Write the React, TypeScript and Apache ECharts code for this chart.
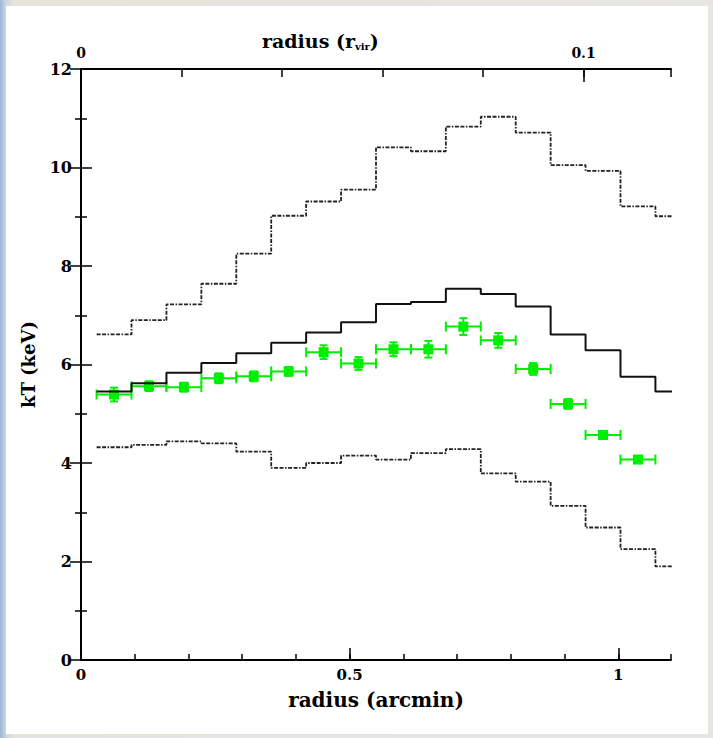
import React, { useEffect, useRef } from "react";
import * as echarts from "echarts";

// ---- data ----
// bin edges of the radial profile, arcmin
const binEdges = [0.029, 0.094, 0.159, 0.224, 0.289, 0.354, 0.419, 0.484, 0.549, 0.614, 0.679, 0.744, 0.809, 0.874, 0.939, 1.004, 1.069, 1.134];
// model profiles (one value per bin), keV
const medianKT = [5.45, 5.62, 5.83, 6.03, 6.23, 6.44, 6.65, 6.86, 7.23, 7.27, 7.54, 7.43, 7.18, 6.61, 6.29, 5.75, 5.45];
const upperKT = [6.61, 6.9, 7.22, 7.64, 8.25, 9.02, 9.31, 9.55, 10.41, 10.33, 10.83, 11.03, 10.71, 10.05, 9.93, 9.21, 9.01];
const lowerKT = [4.32, 4.37, 4.44, 4.4, 4.23, 3.9, 4.0, 4.15, 4.07, 4.2, 4.28, 3.79, 3.62, 3.13, 2.69, 2.25, 1.9];
// observed temperatures (first 16 bins) and their 1-sigma errors, keV
const obsKT = [5.39, 5.56, 5.54, 5.72, 5.76, 5.86, 6.25, 6.02, 6.31, 6.31, 6.77, 6.49, 5.91, 5.2, 4.57, 4.07];
const obsErr = [0.14, 0.1, 0.09, 0.1, 0.1, 0.09, 0.14, 0.13, 0.14, 0.17, 0.17, 0.15, 0.12, 0.1, 0.08, 0.07];
// axes
const xMaxArcmin = 1.098;
const xMaxRvir = 0.1174;
const yMax = 12;

const FONT = '"DejaVu Serif", "Liberation Serif", serif';
const GREEN = "#00ee00";
const DASH = [4, 1.5, 4, 1.5, 1.5, 1.5];

function stepData(vals: number[]) {
  return binEdges.map((e, i) => [e, vals[Math.min(i, vals.length - 1)]]);
}

export default function App() {
  const ref = useRef<HTMLDivElement>(null);
  useEffect(() => {
    const chart = echarts.init(ref.current!, null, { renderer: "svg" });
    const obsData = obsKT.map((v, i) => [
      (binEdges[i] + binEdges[i + 1]) / 2,
      v,
      binEdges[i],
      binEdges[i + 1],
      v - obsErr[i],
      v + obsErr[i],
    ]);
    const axisLine = { show: true, lineStyle: { color: "#000", width: 2 } };
    const tickLine = { color: "#000", width: 1.5 };
    const labelStyle = { fontFamily: FONT, fontWeight: "bold" as const, color: "#000" };
    const option: any = {
      animation: false,
      title: {
        text: "radius (r{sub|vir})",
        left: 262,
        top: 31,
        padding: 0,
        textStyle: {
          ...labelStyle,
          fontSize: 19,
          lineHeight: 20,
          rich: {
            sub: { ...labelStyle, fontSize: 10, lineHeight: 20, verticalAlign: "bottom" },
          },
        },
      },
      grid: { left: 81, right: 42, top: 69, bottom: 78, containLabel: false },
      xAxis: [
        {
          type: "value",
          position: "bottom",
          min: 0,
          max: xMaxArcmin,
          interval: 0.5,
          axisLine,
          axisTick: { show: true, inside: true, length: 12, lineStyle: tickLine },
          splitLine: { show: false },
          axisLabel: {
            ...labelStyle,
            fontSize: 15,
            margin: 7,
            showMaxLabel: false,
            formatter: (v: number) => (Math.abs(v * 2 - Math.round(v * 2)) < 1e-6 ? String(v) : ""),
          },
          name: "radius (arcmin)",
          nameLocation: "middle",
          nameGap: 30,
          nameTextStyle: { ...labelStyle, fontSize: 20 },
        },
        {
          type: "value",
          position: "bottom",
          min: 0,
          max: xMaxArcmin,
          interval: 0.1,
          axisLine: { show: false },
          axisTick: { show: true, inside: true, length: 6, lineStyle: tickLine },
          splitLine: { show: false },
          axisLabel: { show: false },
        },
        {
          type: "value",
          position: "top",
          min: 0,
          max: xMaxRvir,
          interval: 0.1,
          axisLine,
          axisTick: { show: true, inside: true, length: 13, lineStyle: tickLine },
          splitLine: { show: false },
          axisLabel: {
            ...labelStyle,
            fontSize: 14,
            margin: 9,
            showMaxLabel: false,
            formatter: (v: number) => (Math.abs(v * 10 - Math.round(v * 10)) < 1e-6 ? String(v) : ""),
          },
        },
        {
          type: "value",
          position: "top",
          min: 0,
          max: xMaxRvir,
          interval: 0.02,
          axisLine: { show: false },
          axisTick: { show: true, inside: true, length: 8, lineStyle: tickLine },
          splitLine: { show: false },
          axisLabel: { show: false },
        },
      ],
      yAxis: [
        {
          type: "value",
          position: "left",
          min: 0,
          max: yMax,
          interval: 2,
          axisLine,
          axisTick: { show: true, inside: true, length: 11, lineStyle: tickLine },
          minorTick: { show: true, splitNumber: 2, length: 6, lineStyle: tickLine },
          splitLine: { show: false },
          minorSplitLine: { show: false },
          axisLabel: { ...labelStyle, fontSize: 16, margin: 9 },
          name: "kT (keV)",
          nameLocation: "middle",
          nameGap: 44,
          nameRotate: 90,
          nameTextStyle: { ...labelStyle, fontSize: 18 },
        },
        {
          type: "value",
          position: "right",
          min: 0,
          max: yMax,
          interval: 2,
          axisLine,
          axisTick: { show: true, inside: true, length: 11, lineStyle: tickLine },
          minorTick: { show: true, splitNumber: 2, length: 6, lineStyle: tickLine },
          splitLine: { show: false },
          minorSplitLine: { show: false },
          axisLabel: { show: false },
        },
      ],
      series: [
        {
          type: "line",
          xAxisIndex: 0,
          yAxisIndex: 0,
          step: "end",
          showSymbol: false,
          symbol: "none",
          clip: true,
          data: stepData(upperKT),
          lineStyle: { color: "#222", width: 1.8, type: DASH },
        },
        {
          type: "line",
          xAxisIndex: 0,
          yAxisIndex: 0,
          step: "end",
          showSymbol: false,
          symbol: "none",
          clip: true,
          data: stepData(lowerKT),
          lineStyle: { color: "#222", width: 1.8, type: DASH },
        },
        {
          type: "line",
          xAxisIndex: 0,
          yAxisIndex: 0,
          step: "end",
          showSymbol: false,
          symbol: "none",
          clip: true,
          data: stepData(medianKT),
          lineStyle: { color: "#111", width: 2 },
        },
        {
          type: "custom",
          xAxisIndex: 0,
          yAxisIndex: 0,
          clip: true,
          data: obsData,
          encode: { x: [0, 2, 3], y: [1, 4, 5] },
          renderItem: (params: any, api: any) => {
            const xc = api.value(0);
            const y = api.value(1);
            const pc = api.coord([xc, y]);
            const pl = api.coord([api.value(2), y]);
            const ph = api.coord([api.value(3), y]);
            const pyl = api.coord([xc, api.value(4)]);
            const pyh = api.coord([xc, api.value(5)]);
            const st = { stroke: GREEN, lineWidth: 2, fill: null };
            const cap = 5;
            const hc = 4;
            return {
              type: "group",
              children: [
                { type: "line", shape: { x1: pl[0], y1: pc[1], x2: ph[0], y2: pc[1] }, style: st },
                { type: "line", shape: { x1: pl[0], y1: pc[1] - cap, x2: pl[0], y2: pc[1] + cap }, style: st },
                { type: "line", shape: { x1: ph[0], y1: pc[1] - cap, x2: ph[0], y2: pc[1] + cap }, style: st },
                { type: "line", shape: { x1: pc[0], y1: pyl[1], x2: pc[0], y2: pyh[1] }, style: st },
                { type: "line", shape: { x1: pc[0] - hc, y1: pyl[1], x2: pc[0] + hc, y2: pyl[1] }, style: st },
                { type: "line", shape: { x1: pc[0] - hc, y1: pyh[1], x2: pc[0] + hc, y2: pyh[1] }, style: st },
                { type: "rect", shape: { x: pc[0] - 5, y: pc[1] - 5, width: 10, height: 10 }, style: { fill: GREEN } },
              ],
            };
          },
        },
      ],
    };
    chart.setOption(option);
    return () => chart.dispose();
  }, []);
  return (
    <div
      style={{
        position: "absolute",
        left: 0,
        top: 0,
        width: 713,
        height: 738,
        overflow: "hidden",
        background: "linear-gradient(90deg, #9db5d8 0px, #cdd6e2 6px, #e6e3dd 14px, #e8e6e2 100%)",
      }}
    >
      <div style={{ position: "absolute", left: 6, top: 6, width: 702, height: 728, background: "#ffffff" }} />
      <div ref={ref} style={{ position: "absolute", left: 0, top: 0, width: 713, height: 738 }} />
    </div>
  );
}
